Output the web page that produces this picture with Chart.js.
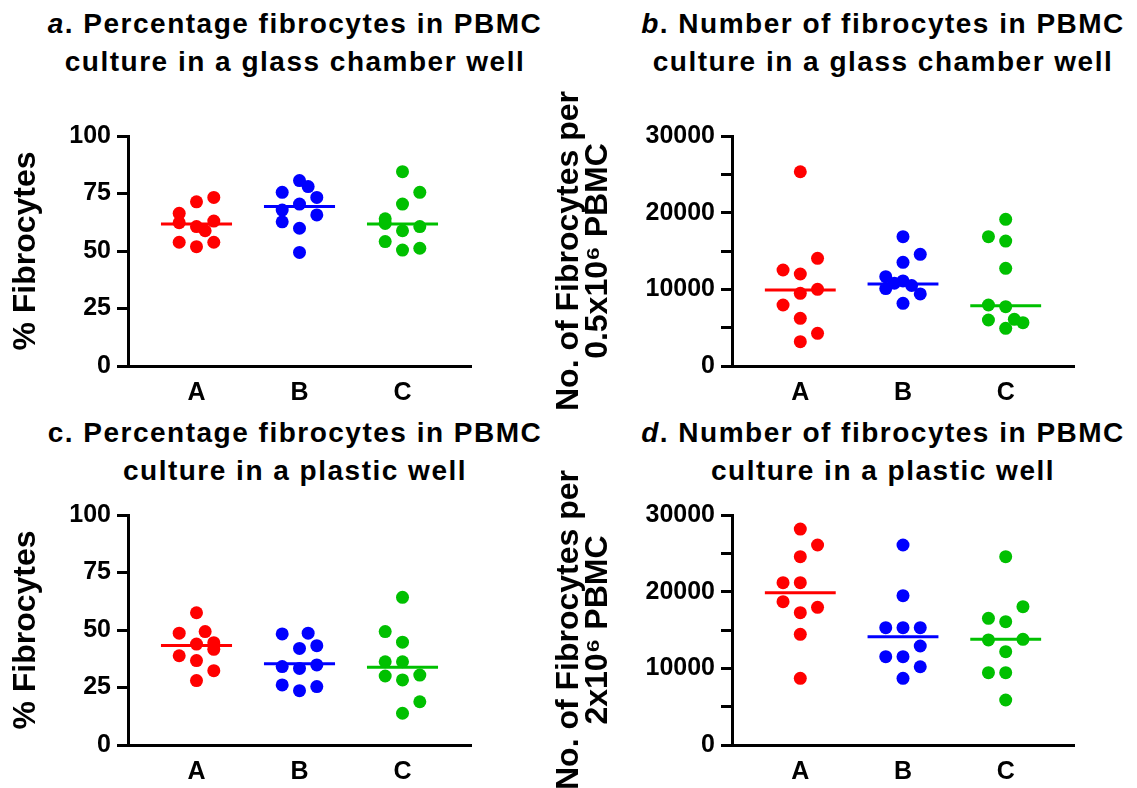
<!DOCTYPE html>
<html>
<head>
<meta charset="utf-8">
<title>Fibrocytes in PBMC culture</title>
<script src="https://cdn.jsdelivr.net/npm/chart.js@4.4.1/dist/chart.umd.min.js"></script>
<style>
  html, body { margin: 0; padding: 0; background: #fff; }
  #page { position: relative; width: 1137px; height: 788px; overflow: hidden; }
  #page canvas { position: absolute; }
  .panel-title {
    position: absolute;
    text-align: center;
    white-space: nowrap;
    color: #000;
    font: bold 28px "Liberation Sans", Arial, sans-serif;
    line-height: 38px;
    letter-spacing: 1.5px;
  }
</style>
</head>
<body>
<div id="page">
  <div class="panel-title" style="left:0;top:5px;width:590px"><i>a</i>. Percentage fibrocytes in PBMC<br>culture in a glass chamber well</div>
  <div class="panel-title" style="left:583px;top:5px;width:600px"><i>b</i>. Number of fibrocytes in PBMC<br>culture in a glass chamber well</div>
  <div class="panel-title" style="left:0;top:414px;width:590px">c. Percentage fibrocytes in PBMC<br>culture in a plastic well</div>
  <div class="panel-title" style="left:583px;top:414px;width:600px"><i>d</i>. Number of fibrocytes in PBMC<br>culture in a plastic well</div>

  <canvas id="panelA" width="560" height="320" style="left:0;top:100px"></canvas>
  <canvas id="panelB" width="597" height="345" style="left:540px;top:75px"></canvas>
  <canvas id="panelC" width="560" height="308" style="left:0;top:480px"></canvas>
  <canvas id="panelD" width="597" height="333" style="left:540px;top:455px"></canvas>
</div>

<script>
const categories = ['A', 'B', 'C'];
const groupColors = ['#ff0000', '#0000ff', '#00c000'];

// a. % fibrocytes, glass chamber well
const glassPctA = [73.3, 71.4, 66.4, 62.3, 63.0, 60.6, 58.8, 53.8, 51.9, 53.8];
const glassPctB = [80.6, 78.0, 75.5, 73.3, 70.4, 67.8, 65.7, 62.7, 59.9, 49.4];
const glassPctC = [84.5, 75.5, 70.4, 64.0, 62.0, 60.6, 58.8, 54.1, 51.2, 50.4];
const glassPctMedians = [61.7, 69.3, 61.7];

// b. number of fibrocytes per 0.5x10^6 PBMC, glass chamber well
const glassNumA = [25340, 14040, 12520, 12000, 10000, 9480, 7960, 6220, 4260, 3170];
const glassNumB = [16870, 14570, 13520, 11650, 11100, 10800, 10500, 10100, 9400, 8170];
const glassNumC = [19130, 16870, 16300, 12740, 7960, 7740, 6000, 6090, 5650, 4910];
const glassNumMedians = [9900, 10700, 7850];

// c. % fibrocytes, plastic well
const plasticPctA = [57.5, 48.6, 49.3, 43.9, 44.5, 41.6, 38.8, 36.7, 32.3, 28.0];
const plasticPctB = [48.3, 48.6, 42.0, 43.2, 34.1, 33.3, 34.8, 26.1, 23.6, 25.4];
const plasticPctC = [64.2, 49.3, 44.7, 36.2, 36.2, 30.0, 28.3, 30.4, 18.8, 13.8];
const plasticPctMedians = [43.3, 35.3, 33.8];

// d. number of fibrocytes per 2x10^6 PBMC, plastic well
const plasticNumA = [28170, 26090, 24560, 21170, 21170, 18690, 17960, 17260, 14440, 8700];
const plasticNumB = [26090, 19480, 15300, 15300, 15300, 12910, 11520, 11520, 10210, 8700];
const plasticNumC = [24560, 18040, 16520, 16090, 13700, 13780, 12170, 9430, 9430, 5870];
const plasticNumMedians = [19870, 14130, 13780];

// column of each dot inside its group (-1 left, 0 centre, 1 right), as in the scatter
const glassPctCols = [
  [1, 0, -1, -1, 1, 0, 0.5, -1, 0, 1],
  [0, 0.5, -1, 1, 0, -1, 1, -1, 0, 0],
  [0, 1, 0, -1, -1, 1, 0, -1, 1, 0]
];
const glassNumCols = [
  [0, 1, -1, 0, 1, 0, -1, 0, 1, 0],
  [0, 1, 0, -1, 0, -0.5, 0.5, -1, 1, 0],
  [0, -1, 0, 0, -1, 0, -1, 0.5, 1, 0]
];
const plasticPctCols = [
  [0, -1, 0.5, 0, 1, 1, -1, 0, 1, 0],
  [-1, 0.5, 0, 1, -1, 0, 1, -1, 0, 1],
  [0, -1, 0, -1, 0, -1, 0, 1, 1, 0]
];
const plasticNumCols = [
  [0, 1, 0, -1, 0, -1, 1, 0, 0, 0],
  [0, 0, -1, 0, 1, 1, -1, 0, 1, 0],
  [0, 1, -1, 0, -1, 1, 0, -1, 0, 0]
];

const COL_STEP = 0.168;
const MEDIAN_HALF = 0.345;

Chart.defaults.font.family = '"Liberation Sans", Arial, sans-serif';
Chart.defaults.color = '#000';

function makePanel(id, groups, cols, medians, yMax, minorStep, labelStep, yTitle, box) {
  const datasets = [];
  groups.forEach((vals, g) => {
    datasets.push({
      type: 'scatter',
      data: vals.map((v, i) => ({ x: g + 1 + cols[g][i] * COL_STEP, y: v })),
      backgroundColor: groupColors[g],
      borderWidth: 0,
      pointRadius: 6.5,
      pointHoverRadius: 6.5
    });
    datasets.push({
      type: 'line',
      data: [
        { x: g + 1 - MEDIAN_HALF, y: medians[g] },
        { x: g + 1 + MEDIAN_HALF, y: medians[g] }
      ],
      borderColor: groupColors[g],
      borderWidth: 3,
      pointRadius: 0,
      fill: false
    });
  });

  new Chart(document.getElementById(id), {
    type: 'scatter',
    data: { datasets },
    options: {
      responsive: false,
      animation: false,
      devicePixelRatio: 1,
      layout: { padding: { top: box.top, right: box.right, left: 0, bottom: 0 } },
      plugins: { legend: { display: false }, tooltip: { enabled: false } },
      scales: {
        x: {
          type: 'linear',
          min: 0.335,
          max: 3.665,
          afterBuildTicks: (s) => { s.ticks = categories.map((c, i) => ({ value: i + 1 })); },
          afterFit: (s) => { s.height = box.xHeight; },
          grid: { display: false, drawTicks: false },
          border: { display: true, color: '#000', width: 3 },
          ticks: {
            callback: (v) => categories[v - 1],
            font: { size: 25, weight: 'bold' },
            padding: 12,
            autoSkip: false,
            maxRotation: 0
          }
        },
        y: {
          min: 0,
          max: yMax,
          afterFit: (s) => { s.width = box.yWidth; },
          grid: { drawOnChartArea: false, color: '#000', lineWidth: 3, tickLength: 11 },
          border: { color: '#000', width: 3 },
          ticks: {
            stepSize: minorStep,
            callback: (v) => (Math.abs(v % labelStep) < 1e-6 ? String(v) : ''),
            font: { size: 25, weight: 'bold' },
            padding: 6
          },
          title: {
            display: true,
            text: yTitle,
            font: { size: 32, weight: 'bold', lineHeight: box.titleLH },
            padding: { top: box.titlePad, bottom: 0 }
          }
        }
      }
    }
  });
}

const leftBoxTop = { top: 36, right: 89, yWidth: 128, xHeight: 54, titlePad: 7, titleLH: 1.2 };
const rightBoxTop = { top: 61, right: 63, yWidth: 192, xHeight: 54, titlePad: 15, titleLH: 0.9 };
const leftBoxBottom = { top: 35, right: 89, yWidth: 128, xHeight: 43, titlePad: 7, titleLH: 1.2 };
const rightBoxBottom = { top: 60, right: 63, yWidth: 192, xHeight: 43, titlePad: 15, titleLH: 0.9 };

makePanel('panelA', [glassPctA, glassPctB, glassPctC], glassPctCols, glassPctMedians,
  100, 12.5, 25, '% Fibrocytes', leftBoxTop);
makePanel('panelB', [glassNumA, glassNumB, glassNumC], glassNumCols, glassNumMedians,
  30000, 5000, 10000, ['No. of Fibrocytes per', '0.5x10\u2076 PBMC'], rightBoxTop);
makePanel('panelC', [plasticPctA, plasticPctB, plasticPctC], plasticPctCols, plasticPctMedians,
  100, 12.5, 25, '% Fibrocytes', leftBoxBottom);
makePanel('panelD', [plasticNumA, plasticNumB, plasticNumC], plasticNumCols, plasticNumMedians,
  30000, 5000, 10000, ['No. of Fibrocytes per', '2x10\u2076 PBMC'], rightBoxBottom);
</script>
</body>
</html>
